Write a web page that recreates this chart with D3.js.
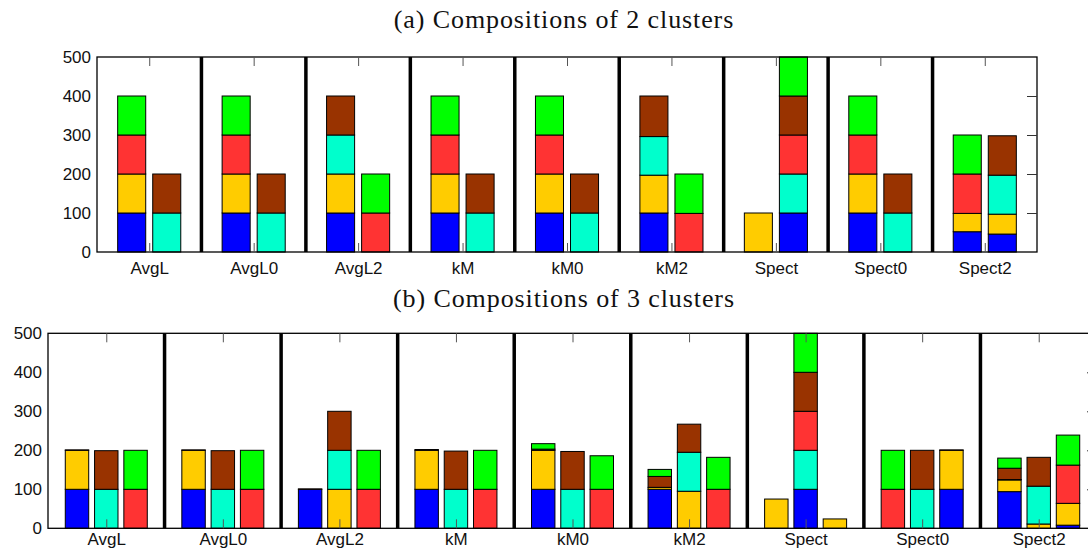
<!DOCTYPE html>
<html>
<head>
<meta charset="utf-8">
<script src="https://cdn.jsdelivr.net/npm/d3@7"></script>
<style>
  html, body { margin: 0; padding: 0; background: #fff; }
  svg { display: block; }
  .title { font-family: 'Liberation Serif', 'DejaVu Serif', serif; font-size: 26px; fill: #111; letter-spacing: 0.9px; }
  .tick text { font-family: 'Liberation Sans', Arial, sans-serif; font-size: 17px; fill: #111; }
</style>
</head>
<body>
<svg id="chart" width="1088" height="550"></svg>
<script>
// methods on the x axis, class order from bottom of each stack upwards
const methods = ['AvgL', 'AvgL0', 'AvgL2', 'kM', 'kM0', 'kM2', 'Spect', 'Spect0', 'Spect2'];
const classKeys = ['blue', 'yellow', 'cyan', 'red', 'brown', 'green'];
const yTicks = [0, 100, 200, 300, 400, 500];

// (a) 2 clusters: one value per bar, bars in order method x cluster
const blue2   = [100, 0,  100, 0,  100, 0,  100, 0,  100, 0,  100, 0,  0, 100,  100, 0,  52, 46];
const yellow2 = [100, 0,  100, 0,  100, 0,  100, 0,  100, 0,  97, 0,   100, 0,  100, 0,  47, 51];
const cyan2   = [0, 100,  0, 100,  100, 0,  0, 100,  0, 100,  99, 0,   0, 100,  0, 100,  0, 100];
const red2    = [100, 0,  100, 0,  0, 100,  100, 0,  100, 0,  0, 99,   0, 100,  100, 0,  101, 0];
const brown2  = [0, 100,  0, 100,  100, 0,  0, 100,  0, 100,  104, 0,  0, 100,  0, 100,  0, 101];
const green2  = [100, 0,  100, 0,  0, 100,  100, 0,  100, 0,  0, 101,  0, 100,  100, 0,  100, 0];

// (b) 3 clusters
const blue3   = [100, 0, 0,  100, 0, 0,  100, 0, 0,  100, 0, 0,  100, 0, 0,  100, 0, 0,  0, 100, 0,  0, 0, 100,  94, 0, 8];
const yellow3 = [100, 0, 0,  100, 0, 0,  0, 100, 0,  100, 0, 0,  100, 0, 0,  5, 95, 0,   75, 0, 24,  0, 0, 100,  30, 11, 56];
const cyan3   = [0, 100, 0,  0, 100, 0,  0, 100, 0,  0, 100, 0,  0, 100, 0,  0, 100, 0,  0, 100, 0,  0, 100, 0,  0, 97, 0];
const red3    = [0, 0, 100,  0, 0, 100,  0, 0, 100,  0, 0, 100,  0, 0, 100,  0, 0, 100,  0, 100, 0,  100, 0, 0,  1, 0, 98];
const brown3  = [1, 99, 0,   1, 99, 0,   1, 100, 0,  2, 98, 0,   3, 97, 0,   28, 72, 0,  0, 100, 0,  0, 100, 1,  29, 74, 0];
const green3  = [0, 0, 100,  0, 0, 100,  0, 0, 100,  0, 0, 100,  14, 0, 86,  18, 0, 82,  0, 100, 0,  100, 0, 0,  26, 0, 77];

const COLORS = {
  blue:   '#0000ff',
  yellow: '#ffcc00',
  cyan:   '#00ffcc',
  red:    '#ff3333',
  brown:  '#993300',
  green:  '#00ff00',
};

const svg = d3.select('#chart');

function buildRows(series, nClusters) {
  const rows = [];
  methods.forEach((m, i) => {
    for (let c = 0; c < nClusters; c++) {
      const k = i * nClusters + c;
      const row = { method: m, cluster: c };
      classKeys.forEach((key, j) => { row[key] = series[j][k]; });
      rows.push(row);
    }
  });
  return rows;
}

function drawPanel(opt) {
  const { rows, nClusters, left, right, top, bottom, title, titleY, labelPad } = opt;
  const g = svg.append('g');

  const x0 = d3.scaleBand().domain(methods).range([left, right]).padding(0);
  const x1 = d3.scaleBand().domain(d3.range(nClusters))
    .range([0, x0.bandwidth()]).paddingInner(0.2).paddingOuter(0.59);
  const y = d3.scaleLinear().domain([0, 500]).range([bottom, top]);

  const stacked = d3.stack().keys(classKeys)(rows);

  g.append('g').selectAll('g').data(stacked).enter().append('g')
    .attr('fill', d => COLORS[d.key])
    .selectAll('rect')
    .data(d => d.filter(s => s[1] - s[0] > 0))
    .enter().append('rect')
      .attr('x', d => x0(d.data.method) + x1(d.data.cluster))
      .attr('width', x1.bandwidth())
      .attr('y', d => y(d[1]))
      .attr('height', d => y(d[0]) - y(d[1]))
      .attr('stroke', '#000').attr('stroke-width', 1);

  // thick separators between methods
  g.append('g').selectAll('line').data(methods.slice(1)).enter().append('line')
    .attr('x1', d => x0(d)).attr('x2', d => x0(d))
    .attr('y1', top).attr('y2', bottom)
    .attr('stroke', '#000').attr('stroke-width', 3.5);

  // frame
  g.append('rect')
    .attr('x', left).attr('y', top)
    .attr('width', right - left).attr('height', bottom - top)
    .attr('fill', 'none').attr('stroke', '#000').attr('stroke-width', 1.3);

  const xCenter = d3.scalePoint().domain(methods).range([left + x0.bandwidth() / 2, right - x0.bandwidth() / 2]);

  const xAxis = g.append('g').attr('transform', `translate(0,${bottom})`)
    .call(d3.axisBottom(xCenter).tickSizeInner(-9).tickSizeOuter(0).tickPadding(labelPad));
  xAxis.select('.domain').remove();
  xAxis.selectAll('line').attr('stroke', '#555');

  const xTop = g.append('g').attr('transform', `translate(0,${top})`)
    .call(d3.axisTop(xCenter).tickSizeInner(-9).tickSizeOuter(0).tickFormat(''));
  xTop.select('.domain').remove();
  xTop.selectAll('line').attr('stroke', '#555');

  const yAxis = g.append('g').attr('transform', `translate(${left},0)`)
    .call(d3.axisLeft(y).tickValues(yTicks).tickSize(0).tickPadding(6));
  yAxis.select('.domain').remove();

  const yRight = g.append('g').attr('transform', `translate(${right},0)`)
    .call(d3.axisRight(y).tickValues(yTicks.slice(1, -1)).tickSizeInner(-10).tickSizeOuter(0).tickFormat(''));
  yRight.select('.domain').remove();
  yRight.selectAll('line').attr('stroke', '#333');

  svg.append('text').attr('class', 'title')
    .attr('x', 564).attr('y', titleY)
    .attr('text-anchor', 'middle')
    .text(title);
}

drawPanel({
  rows: buildRows([blue2, yellow2, cyan2, red2, brown2, green2], 2),
  nClusters: 2,
  left: 97, right: 1037, top: 57, bottom: 252,
  title: '(a) Compositions of 2 clusters', titleY: 28, labelPad: 10,
});

drawPanel({
  rows: buildRows([blue3, yellow3, cyan3, red3, brown3, green3], 3),
  nClusters: 3,
  left: 48, right: 1097, top: 333.3, bottom: 528.3,
  title: '(b) Compositions of 3 clusters', titleY: 307, labelPad: 5,
});
</script>
</body>
</html>
